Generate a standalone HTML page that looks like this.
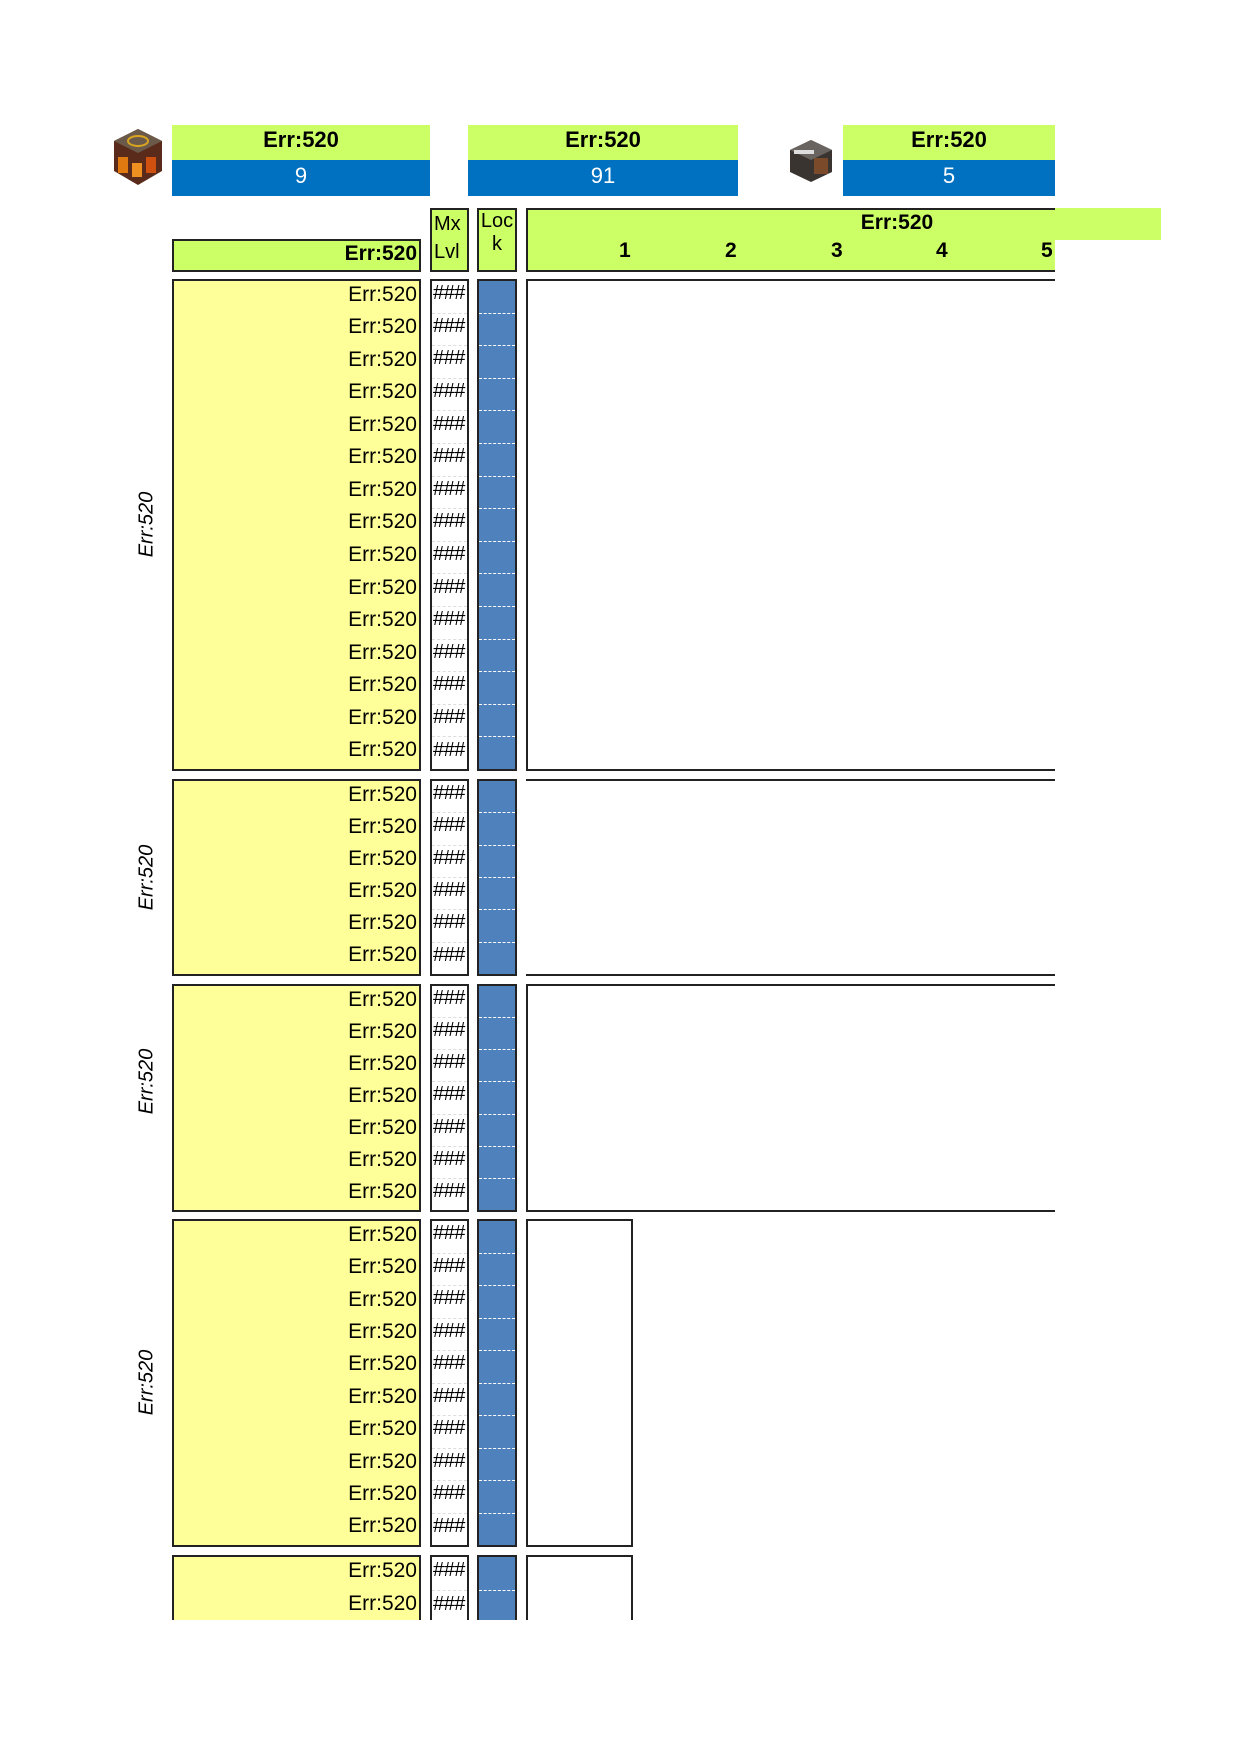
<!DOCTYPE html>
<html><head><meta charset="utf-8"><style>
*{box-sizing:border-box;margin:0;padding:0}
body{width:1241px;height:1754px;background:#fff;position:relative;overflow:hidden;font-family:"Liberation Sans",Carlito,sans-serif;color:#000}
.a{position:absolute}
.g{background:#ccff66}
.b{background:#0070c0;color:#fff}
.tc{display:flex;align-items:center;justify-content:center;font-size:22px;padding-bottom:5px}
.y{background:#ffff99;border:2px solid #222;display:flex;flex-direction:column}
.y div{flex:1;text-align:right;font-size:21px;line-height:1;display:flex;align-items:center;justify-content:flex-end;padding-right:2px;padding-bottom:6px}
.m{background:#fff;border:2px solid #222;display:flex;flex-direction:column}
.m div{flex:1;font-size:20px;display:flex;align-items:center;padding-left:1px;padding-bottom:6px;border-top:1px dashed #ddd;letter-spacing:-0.5px}
.m div:first-child{border-top:none}
.l{background:#4f81bd;border:2px solid #222;display:flex;flex-direction:column}
.l div{flex:1;border-top:1.5px dashed #fff}
.l div:first-child{border-top:none}
.rot{font-style:italic;font-size:20px;transform:rotate(-90deg);white-space:nowrap;width:120px;text-align:center}
</style></head><body>

<div class="a" style="left:110px;top:127px;width:56px;height:60px">
<svg width="56" height="60" viewBox="0 0 56 60"><polygon points="28,2 52,14 52,44 28,58 4,44 4,14" fill="#5a2a1a"/><polygon points="28,2 52,14 28,26 4,14" fill="#6b5a4a"/><ellipse cx="28" cy="14" rx="10" ry="5" fill="none" stroke="#d9a520" stroke-width="2"/><rect x="8" y="30" width="10" height="16" fill="#e07a10"/><rect x="36" y="30" width="10" height="16" fill="#d05010"/><rect x="22" y="36" width="10" height="14" fill="#f09020"/></svg></div>
<div class="a" style="left:786px;top:136px;width:50px;height:48px">
<svg width="50" height="48" viewBox="0 0 50 48"><polygon points="25,4 46,14 46,36 25,46 4,36 4,14" fill="#3a3430"/><polygon points="25,4 46,14 25,24 4,14" fill="#6a6460"/><rect x="8" y="14" width="20" height="4" fill="#ddd"/><rect x="28" y="22" width="14" height="16" fill="#7a4a2a"/></svg></div>

<div class="a g tc" style="left:172px;top:125px;width:258px;height:35px;font-weight:bold">Err:520</div>
<div class="a b tc" style="left:172px;top:160px;width:258px;height:36px">9</div>
<div class="a g tc" style="left:468px;top:125px;width:270px;height:35px;font-weight:bold">Err:520</div>
<div class="a b tc" style="left:468px;top:160px;width:270px;height:36px">91</div>
<div class="a g tc" style="left:843px;top:125px;width:212px;height:35px;font-weight:bold">Err:520</div>
<div class="a b tc" style="left:843px;top:160px;width:212px;height:36px">5</div>

<div class="a g" style="left:172px;top:239px;width:249px;height:33px;border:2px solid #222;font-weight:bold;font-size:21px;text-align:right;line-height:25px;padding-right:2px">Err:520</div>
<div class="a g" style="left:430px;top:208px;width:39px;height:64px;border:2px solid #222;font-size:20px;line-height:28px;padding-left:2px">Mx<br>Lvl</div>
<div class="a g" style="left:477px;top:208px;width:40px;height:64px;border:2px solid #222;font-size:20px;line-height:23px;text-align:center">Loc<br>k</div>
<div class="a g" style="left:1055px;top:208px;width:106px;height:32px"></div>
<div class="a g" style="left:526px;top:208px;width:529px;height:64px;border-top:2px solid #222;border-left:2px solid #222;border-bottom:2px solid #222;font-weight:bold;font-size:21px">
<div class="a" style="left:0;top:-2px;width:738px;text-align:center;line-height:30px">Err:520</div>
<div class="a" style="left:91px;top:26px;width:10px;line-height:30px">1</div>
<div class="a" style="left:197px;top:26px;line-height:30px">2</div>
<div class="a" style="left:303px;top:26px;line-height:30px">3</div>
<div class="a" style="left:408px;top:26px;line-height:30px">4</div>
<div class="a" style="left:513px;top:26px;line-height:30px">5</div>
</div>

<div class="a rot" style="left:87px;top:513px">Err:520</div>
<div class="a rot" style="left:87px;top:866px">Err:520</div>
<div class="a rot" style="left:87px;top:1070px">Err:520</div>
<div class="a rot" style="left:87px;top:1371px">Err:520</div>

<div class="a y" style="left:172px;top:279px;width:249px;height:492px"><div>Err:520</div><div>Err:520</div><div>Err:520</div><div>Err:520</div><div>Err:520</div><div>Err:520</div><div>Err:520</div><div>Err:520</div><div>Err:520</div><div>Err:520</div><div>Err:520</div><div>Err:520</div><div>Err:520</div><div>Err:520</div><div>Err:520</div></div>
<div class="a m" style="left:430px;top:279px;width:39px;height:492px"><div>###</div><div>###</div><div>###</div><div>###</div><div>###</div><div>###</div><div>###</div><div>###</div><div>###</div><div>###</div><div>###</div><div>###</div><div>###</div><div>###</div><div>###</div></div>
<div class="a l" style="left:477px;top:279px;width:40px;height:492px"><div></div><div></div><div></div><div></div><div></div><div></div><div></div><div></div><div></div><div></div><div></div><div></div><div></div><div></div><div></div></div>
<div class="a" style="left:526px;top:279px;width:529px;height:492px;border-top:2px solid #222;border-left:2px solid #222;border-bottom:2px solid #222"></div>

<div class="a y" style="left:172px;top:779px;width:249px;height:197px"><div>Err:520</div><div>Err:520</div><div>Err:520</div><div>Err:520</div><div>Err:520</div><div>Err:520</div></div>
<div class="a m" style="left:430px;top:779px;width:39px;height:197px"><div>###</div><div>###</div><div>###</div><div>###</div><div>###</div><div>###</div></div>
<div class="a l" style="left:477px;top:779px;width:40px;height:197px"><div></div><div></div><div></div><div></div><div></div><div></div></div>
<div class="a" style="left:526px;top:779px;width:529px;height:197px;border-top:2px solid #222;border-bottom:2px solid #222"></div>

<div class="a y" style="left:172px;top:984px;width:249px;height:228px"><div>Err:520</div><div>Err:520</div><div>Err:520</div><div>Err:520</div><div>Err:520</div><div>Err:520</div><div>Err:520</div></div>
<div class="a m" style="left:430px;top:984px;width:39px;height:228px"><div>###</div><div>###</div><div>###</div><div>###</div><div>###</div><div>###</div><div>###</div></div>
<div class="a l" style="left:477px;top:984px;width:40px;height:228px"><div></div><div></div><div></div><div></div><div></div><div></div><div></div></div>
<div class="a" style="left:526px;top:984px;width:529px;height:228px;border-top:2px solid #222;border-left:2px solid #222;border-bottom:2px solid #222"></div>

<div class="a y" style="left:172px;top:1219px;width:249px;height:328px"><div>Err:520</div><div>Err:520</div><div>Err:520</div><div>Err:520</div><div>Err:520</div><div>Err:520</div><div>Err:520</div><div>Err:520</div><div>Err:520</div><div>Err:520</div></div>
<div class="a m" style="left:430px;top:1219px;width:39px;height:328px"><div>###</div><div>###</div><div>###</div><div>###</div><div>###</div><div>###</div><div>###</div><div>###</div><div>###</div><div>###</div></div>
<div class="a l" style="left:477px;top:1219px;width:40px;height:328px"><div></div><div></div><div></div><div></div><div></div><div></div><div></div><div></div><div></div><div></div></div>
<div class="a" style="left:526px;top:1219px;width:107px;height:328px;border:2px solid #222"></div>

<div class="a" style="left:0;top:1555px;width:1241px;height:65px;overflow:hidden">
<div class="a y" style="left:172px;top:0;width:249px;height:120px;border-bottom:none"><div style="flex:0 0 33px">Err:520</div><div style="flex:0 0 33px">Err:520</div><div></div></div>
<div class="a m" style="left:430px;top:0;width:39px;height:120px"><div style="flex:0 0 33px">###</div><div style="flex:0 0 33px">###</div><div></div></div>
<div class="a l" style="left:477px;top:0;width:40px;height:120px"><div style="flex:0 0 33px"></div><div style="flex:0 0 33px"></div><div></div></div>
<div class="a" style="left:526px;top:0;width:107px;height:120px;border:2px solid #222"></div>
</div>

</body></html>
